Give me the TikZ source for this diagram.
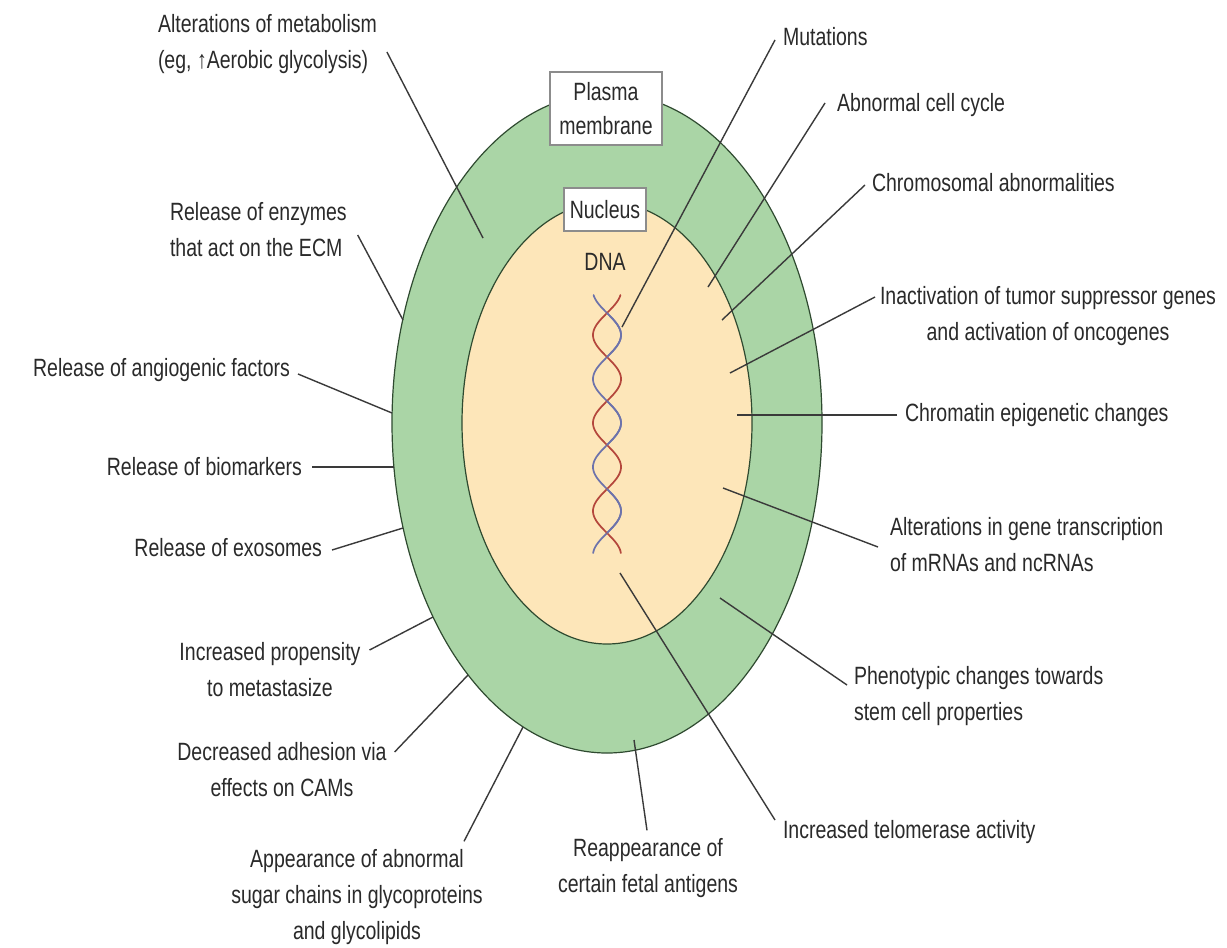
\documentclass[tikz,border=0pt]{standalone}
\usepackage{fontspec}
\setmainfont{Liberation Sans}[FakeStretch=0.78]
\definecolor{cellgreen}{HTML}{AAD5A6}
\definecolor{nucpeach}{HTML}{FDE6B9}
\definecolor{rimc}{HTML}{2F4A30}
\definecolor{linec}{HTML}{3A3A3A}
\definecolor{txt}{HTML}{2A2A2A}
\definecolor{boxc}{HTML}{8C8C8C}
\definecolor{strandred}{HTML}{B4473C}
\definecolor{strandblue}{HTML}{6D73AB}
\begin{document}
\begin{tikzpicture}[x=0.75pt,y=-0.75pt,
  lbl/.style={inner sep=0pt, outer sep=0pt, text=txt,
              font=\fontsize{18.75}{27}\selectfont},
  lead/.style={draw=linec, line width=1.05pt},
  tagbox/.style={draw=boxc, fill=white, line width=0.8pt, inner sep=0pt,
                 align=center, text=txt, font=\fontsize{18.75}{26}\selectfont},
  strand/.style={line width=1.3pt, line cap=round}]

% canvas
\useasboundingbox (0,0) rectangle (1227,947);
\fill[white] (0,0) rectangle (1227,947);

% cell body and nucleus
\filldraw[fill=cellgreen, draw=rimc, line width=0.9pt]
  (607,423) ellipse [x radius=161.25pt, y radius=247.5pt];
\filldraw[fill=nucpeach, draw=rimc, line width=0.9pt]
  (607,423) ellipse [x radius=108.75pt, y radius=165.75pt];

% DNA double helix (phase in degrees: 180/44 per px)
\draw[strand, strandblue] plot[domain=295:553, samples=160, variable=\t]
  ({607+14*sin((\t-313)*4.0909)}, \t);
\draw[strand, strandred] plot[domain=295:553, samples=160, variable=\t]
  ({607-14*sin((\t-313)*4.0909)}, \t);
\foreach \a in {313,401,489}{
  \draw[strand, strandblue] plot[domain=\a:\a+44, samples=40, variable=\t]
    ({607+14*sin((\t-313)*4.0909)}, \t);
}

% compartment tags
\node[tagbox, minimum width=84pt, minimum height=54.75pt] (pm) at (606,108.5) {Plasma\\membrane};
\node[tagbox, minimum width=61.5pt, minimum height=32.25pt] (nuc) at (605,209.5) {Nucleus};
\node[lbl] (dna) at (605,262) {DNA};

% labels, left side
\node[lbl, anchor=west, align=left] (L1) at (158,44) {Alterations of metabolism\\(eg, ↑Aerobic glycolysis)};
\node[lbl, anchor=west, align=left] (L2) at (170,230) {Release of enzymes\\that act on the ECM};
\node[lbl, anchor=east] (L3) at (290,370) {Release of angiogenic factors};
\node[lbl, anchor=east] (L4) at (302,467) {Release of biomarkers};
\node[lbl, anchor=east] (L5) at (322,548) {Release of exosomes};
\node[lbl, align=center] (L6) at (270,670) {Increased propensity\\to metastasize};
\node[lbl, align=center] (L7) at (282,770) {Decreased adhesion via\\effects on CAMs};
\node[lbl, align=center] (L8) at (357,897) {Appearance of abnormal\\sugar chains in glycoproteins\\and glycolipids};

% labels, bottom and right side
\node[lbl, align=center] (B1) at (648,868) {Reappearance of\\certain fetal antigens};
\node[lbl, anchor=west] (R8) at (783,832) {Increased telomerase activity};
\node[lbl, anchor=west, align=left] (R7) at (854,696) {Phenotypic changes towards\\stem cell properties};
\node[lbl, anchor=west, align=left] (R6) at (890,545) {Alterations in gene transcription\\of mRNAs and ncRNAs};
\node[lbl, anchor=west] (R5) at (905,415) {Chromatin epigenetic changes};
\node[lbl, align=center] (R4) at (1048,316) {Inactivation of tumor suppressor genes\\and activation of oncogenes};
\node[lbl, anchor=west] (R3) at (872,183) {Chromosomal abnormalities};
\node[lbl, anchor=west] (R2) at (837,105) {Abnormal cell cycle};
\node[lbl, anchor=west] (R1) at (783,37) {Mutations};

% leader end points
\coordinate (e1) at (483,238);
\coordinate (e2) at (403,320);
\coordinate (e3) at (392,413);
\coordinate (e4) at (394,467);
\coordinate (e5) at (403,528);
\coordinate (e6) at (433,617);
\coordinate (e7) at (468,675);
\coordinate (e8) at (523,727);
\coordinate (e9) at (634,740);
\coordinate (e10) at (620,573);
\coordinate (e11) at (720,598);
\coordinate (e12) at (723,488);
\coordinate (e13) at (737,415);
\coordinate (e14) at (730,373);
\coordinate (e15) at (722,320);
\coordinate (e16) at (708,287);
\coordinate (e17) at (622,327);

% leaders
\draw[lead] ([shift={(10,8)}]L1.east) -- (e1);
\draw[lead] ([shift={(11,5)}]L2.east) -- (e2);
\draw[lead] ([shift={(8,4)}]L3.east) -- (e3);
\draw[lead] ([shift={(10,0)}]L4.east) -- (e4);
\draw[lead] ([shift={(10,2)}]L5.east) -- (e5);
\draw[lead] ([shift={(9,-20)}]L6.east) -- (e6);
\draw[lead] ([shift={(8,-18)}]L7.east) -- (e7);
\draw[lead] ([shift={(107,-8)}]L8.north) -- (e8);
\draw[lead] ([shift={(-1,-8)}]B1.north) -- (e9);
\draw[lead] ([shift={(-8,-12)}]R8.west) -- (e10);
\draw[lead] ([shift={(-7,-11)}]R7.west) -- (e11);
\draw[lead] ([shift={(-12,2)}]R6.west) -- (e12);
\draw[lead] ([shift={(-8,0)}]R5.west) -- (e13);
\draw[lead] ([shift={(-5,-19)}]R4.west) -- (e14);
\draw[lead] ([shift={(-7,2)}]R3.west) -- (e15);
\draw[lead] ([shift={(-12,-2)}]R2.west) -- (e16);
\draw[lead] ([shift={(-8,3)}]R1.west) -- (e17);

\end{tikzpicture}
\end{document}
